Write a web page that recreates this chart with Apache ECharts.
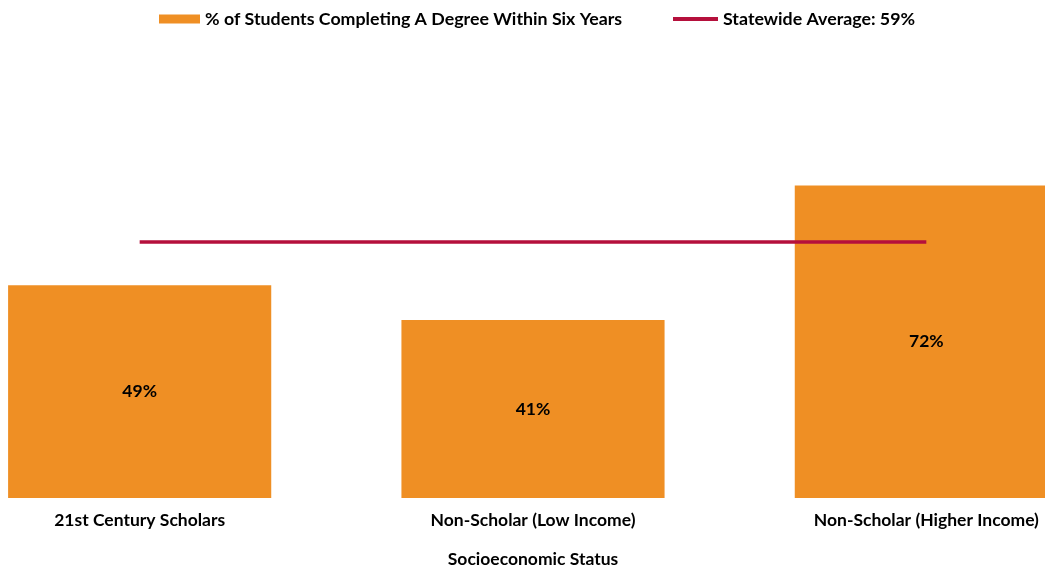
<!DOCTYPE html>
<html>
<head>
<meta charset="utf-8">
<script src="https://cdn.jsdelivr.net/npm/echarts@6/dist/echarts.min.js"></script>
<style>html,body{margin:0;padding:0;background:#fff;overflow:hidden;width:1045px;height:573px}#c{width:1180px;height:573px;margin-left:-57px}</style>
</head>
<body>
<div id="c"></div>
<script>
const categories = ['21st Century Scholars', 'Non-Scholar (Low Income)', 'Non-Scholar (Higher Income)'];
const completionRate = [49, 41, 72];
const statewideAverage = [59, 59, 59];
const barName = '% of Students Completing A Degree Within Six Years';
const lineName = 'Statewide Average: 59%';
const axisTitle = 'Socioeconomic Status';

const FONT = 'Lato';
const FS = 17.5;
const SHIFT = 57; // canvas is offset left by this many px
const chart = echarts.init(document.getElementById('c'));
chart.setOption({
  animation: false,
  textStyle: { fontFamily: FONT },
  legend: [
    { data: [{ name: barName, icon: 'rect' }], left: 159 + SHIFT, top: 10, padding: 0, itemWidth: 41, itemHeight: 9,
      textStyle: { fontFamily: FONT, fontWeight: 'bold', fontSize: 17.8, color: '#000' } },
    { data: [{ name: lineName, icon: 'rect' }], left: 673 + SHIFT, top: 10, padding: 0, itemWidth: 45, itemHeight: 4,
      itemStyle: { color: '#B5103C' },
      textStyle: { fontFamily: FONT, fontWeight: 'bold', fontSize: 17.8, color: '#000' } }
  ],
  grid: { left: 0, right: 0, top: 64, bottom: 72, containLabel: false },
  xAxis: {
    type: 'category', data: categories,
    axisLine: { show: false }, axisTick: { show: false },
    axisLabel: { margin: 13, fontFamily: FONT, fontWeight: 'bold', fontSize: FS, color: '#000' },
    name: axisTitle, nameLocation: 'middle', nameGap: 52,
    nameTextStyle: { fontFamily: FONT, fontWeight: 'bold', fontSize: FS, color: '#000' }
  },
  yAxis: { type: 'value', min: 0, max: 100, show: false, splitLine: { show: false } },
  series: [
    { name: barName, type: 'bar', data: completionRate, barWidth: '66.9%',
      itemStyle: { color: '#EF8F24' },
      label: { show: true, position: 'inside', formatter: '{c}%', fontFamily: FONT, fontWeight: 'bold', fontSize: FS, color: '#000' } },
    { name: lineName, type: 'line', data: statewideAverage, symbol: 'none',
      lineStyle: { color: '#B5103C', width: 3.5 }, itemStyle: { color: '#B5103C' } }
  ]
});
</script>
</body>
</html>
